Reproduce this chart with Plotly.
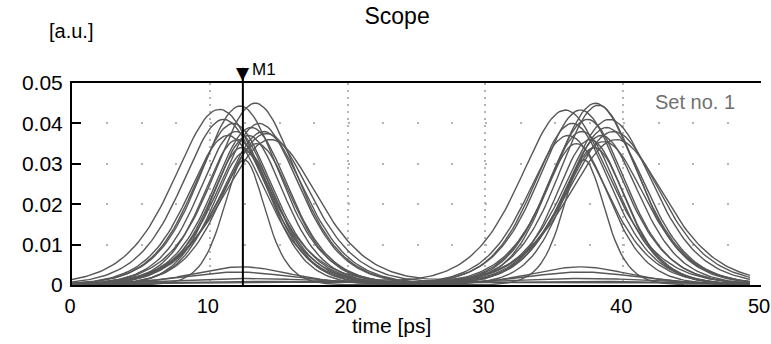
import numpy as np
import plotly.graph_objects as go

# ---- data ----
# time samples (ps)
time_ps = np.arange(0.0, 49.21, 0.2)

# pulse parameters per trace, first bit slot: centre [ps], peak [a.u.], FWHM [ps]
slot1_center = [10.7, 11.0, 11.7, 11.9, 12.2, 12.0, 12.5, 12.3, 12.8, 13.0, 13.3, 13.6, 13.9, 14.1, 13.4, 12.6, 11.3, 14.4, 12.3, 12.0, 12.5, 12.2, 12.8]
slot1_peak   = [0.0435, 0.041, 0.040, 0.038, 0.0443, 0.036, 0.031, 0.034, 0.037, 0.039, 0.045, 0.040, 0.038, 0.0375, 0.035, 0.033, 0.037, 0.036, 0.0045, 0.0032, 0.0016, 0.0009, 0.0006]
slot1_fwhm   = [7.8, 7.2, 6.8, 6.4, 7.0, 6.0, 3.6, 5.4, 6.2, 6.6, 7.2, 7.0, 7.2, 7.6, 6.2, 5.6, 6.8, 8.2, 8.5, 10.0, 14.0, 18.0, 22.0]

# second bit slot
slot2_center = [35.8, 36.9, 38.0, 38.2, 37.4, 39.0, 37.15, 38.8, 36.3, 37.0, 37.6, 38.4, 36.6, 39.3, 37.9, 36.0, 38.6, 39.5, 36.9, 37.0, 37.2, 37.0, 37.5]
slot2_peak   = [0.0433, 0.0433, 0.045, 0.0445, 0.041, 0.041, 0.031, 0.039, 0.040, 0.038, 0.036, 0.037, 0.035, 0.038, 0.034, 0.037, 0.0355, 0.036, 0.0045, 0.0032, 0.0016, 0.0009, 0.0006]
slot2_fwhm   = [7.8, 7.2, 7.4, 7.0, 6.8, 7.6, 3.6, 7.0, 6.8, 6.4, 6.0, 6.6, 5.8, 8.0, 5.6, 7.0, 7.2, 8.4, 8.5, 10.0, 14.0, 18.0, 22.0]

marker_time = 12.4
marker_label = "M1"
x_ticks = [0, 10, 20, 30, 40, 50]
y_ticks = [0, 0.01, 0.02, 0.03, 0.04, 0.05]
y_tick_text = ["0", "0.01", "0.02", "0.03", "0.04", "0.05"]

# ---- figure ----
SECH_K = 1.7627


def pulse(t, c, a, w):
    tau = w / SECH_K
    return a / np.cosh((t - c) / tau) ** 2


fig = go.Figure()
for i in range(len(slot1_center)):
    y = pulse(time_ps, slot1_center[i], slot1_peak[i], slot1_fwhm[i]) + \
        pulse(time_ps, slot2_center[i], slot2_peak[i], slot2_fwhm[i])
    fig.add_trace(go.Scatter(x=time_ps, y=y, mode="lines",
                             line=dict(color="#575757", width=1.4),
                             showlegend=False, hoverinfo="skip"))

FONT = "Liberation Sans, Arial, sans-serif"

fig.update_layout(
    width=771, height=344,
    margin=dict(l=72, r=10, t=83, b=59, autoexpand=False),
    paper_bgcolor="white", plot_bgcolor="white",
    font=dict(family=FONT, size=21, color="black"),
    title=dict(text="Scope", x=0.515, xref="container", xanchor="center",
               y=0.955, yref="container", yanchor="middle",
               font=dict(family=FONT, size=23, color="black")),
    showlegend=False,
)

fig.update_xaxes(range=[0, 50], tickvals=x_ticks, ticks="", showline=True,
                 linecolor="black", linewidth=2, mirror=True, automargin=False,
                 showgrid=True, gridcolor="#b4b4b4", gridwidth=1.5,
                 griddash="2px,5px", zeroline=False, ticklabeloverflow="allow",
                 tickfont=dict(family=FONT, size=20), ticklabelstandoff=2,
                 ticklabelshift=-2)
fig.update_yaxes(range=[0, 0.05], tickvals=y_ticks, ticktext=y_tick_text,
                 ticks="inside", ticklen=9, tickwidth=2, tickcolor="black",
                 showline=True, linecolor="black", linewidth=2, automargin=False,
                 showgrid=True, gridcolor="#b4b4b4", gridwidth=1.5,
                 griddash="2px,32.45px", zeroline=False,
                 tickfont=dict(family=FONT, size=21), ticklabelstandoff=3)

# marker line
fig.add_shape(type="line", xref="x", yref="paper", x0=marker_time, x1=marker_time,
              y0=0, y1=1.075, line=dict(color="black", width=2))

fig.add_annotation(x=marker_time, xref="x", y=1.05, yref="paper", text="▼",
                   showarrow=False, xanchor="center", yanchor="middle",
                   font=dict(family="DejaVu Sans", size=17, color="black"))
fig.add_annotation(x=marker_time, xref="x", y=1.065, yref="paper", text=marker_label,
                   showarrow=False, xanchor="left", yanchor="middle", xshift=7,
                   font=dict(family=FONT, size=17, color="black"))

fig.add_annotation(x=-0.001, xref="paper", y=1.257, yref="paper", text="[a.u.]",
                   showarrow=False, xanchor="center", yanchor="middle",
                   font=dict(family=FONT, size=20, color="black"))
fig.add_annotation(x=0.904, xref="paper", y=0.906, yref="paper", text="Set no. 1",
                   showarrow=False, xanchor="center", yanchor="middle",
                   font=dict(family=FONT, size=20, color="#707070"))
fig.add_annotation(x=0.464, xref="paper", y=-0.2, yref="paper", text="time [ps]",
                   showarrow=False, xanchor="center", yanchor="middle",
                   font=dict(family=FONT, size=21, color="black"))

fig.write_html("out.html", post_script="document.body.style.margin='0px';",
               config={"displayModeBar": False})
